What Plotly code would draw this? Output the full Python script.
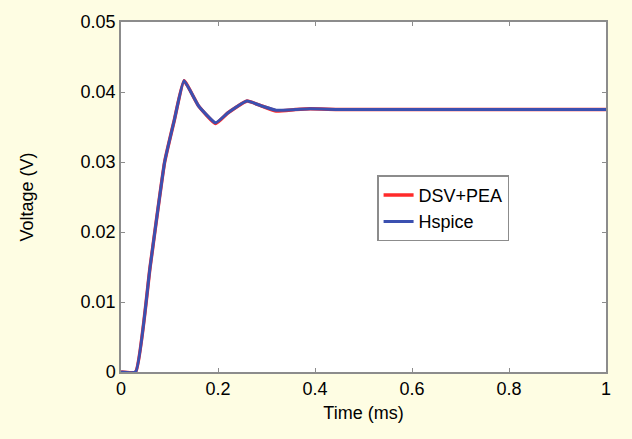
import plotly.graph_objects as go

t = [0, 0.03, 0.06, 0.09, 0.11, 0.13, 0.16, 0.195, 0.22, 0.26, 0.29, 0.32, 0.36, 0.39, 0.45, 0.5, 1.0]
v_dsv = [0, 0, 0.015, 0.030, 0.036, 0.0416, 0.0380, 0.0355, 0.0370, 0.0387, 0.0380, 0.0373, 0.0375, 0.0376, 0.0375, 0.0375, 0.0375]
v_hspice = [0, 0, 0.015, 0.030, 0.036, 0.0416, 0.0380, 0.0356, 0.0370, 0.0387, 0.0380, 0.0374, 0.0375, 0.0376, 0.0375, 0.0375, 0.0375]

xticks = [0, 0.2, 0.4, 0.6, 0.8, 1]
xticklabels = ["0", "0.2", "0.4", "0.6", "0.8", "1"]
yticks = [0, 0.01, 0.02, 0.03, 0.04, 0.05]
yticklabels = ["0", "0.01", "0.02", "0.03", "0.04", "0.05"]

FONT = "Arial, Liberation Sans"
FS = 18

fig = go.Figure()
fig.add_trace(go.Scatter(x=t, y=v_dsv, mode="lines", name="DSV+PEA",
                         line=dict(color="#ff2a2a", width=3.5, shape="spline", smoothing=0.4)))
fig.add_trace(go.Scatter(x=t, y=v_hspice, mode="lines", name="Hspice",
                         line=dict(color="#3b50b0", width=3, shape="spline", smoothing=0.4)))

axis_common = dict(showline=True, linecolor="#8c8c8c", linewidth=1.5, mirror="ticks",
                   ticks="inside", ticklen=4, tickcolor="#8c8c8c", showgrid=False,
                   zeroline=False, tickfont=dict(family=FONT, size=FS, color="black"))

fig.update_xaxes(range=[0, 1], tickvals=xticks, ticktext=xticklabels,
                 title=dict(text="Time (ms)", font=dict(family=FONT, size=FS, color="black"), standoff=8),
                 **axis_common)
fig.update_yaxes(range=[0, 0.05], tickvals=yticks, ticktext=yticklabels,
                 title=dict(text="Voltage (V)", font=dict(family=FONT, size=FS, color="black"), standoff=42),
                 **axis_common)

fig.update_layout(
    width=632, height=439,
    paper_bgcolor="#fefde3", plot_bgcolor="white",
    margin=dict(l=121, r=26, t=20, b=67),
    showlegend=True,
    legend=dict(x=0.528, y=0.562, xanchor="left", yanchor="top",
                bgcolor="white", bordercolor="#8c8c8c", borderwidth=1.5,
                font=dict(family=FONT, size=FS, color="black"),
                entrywidth=150, tracegroupgap=0),
)

fig.write_html("out.html")
